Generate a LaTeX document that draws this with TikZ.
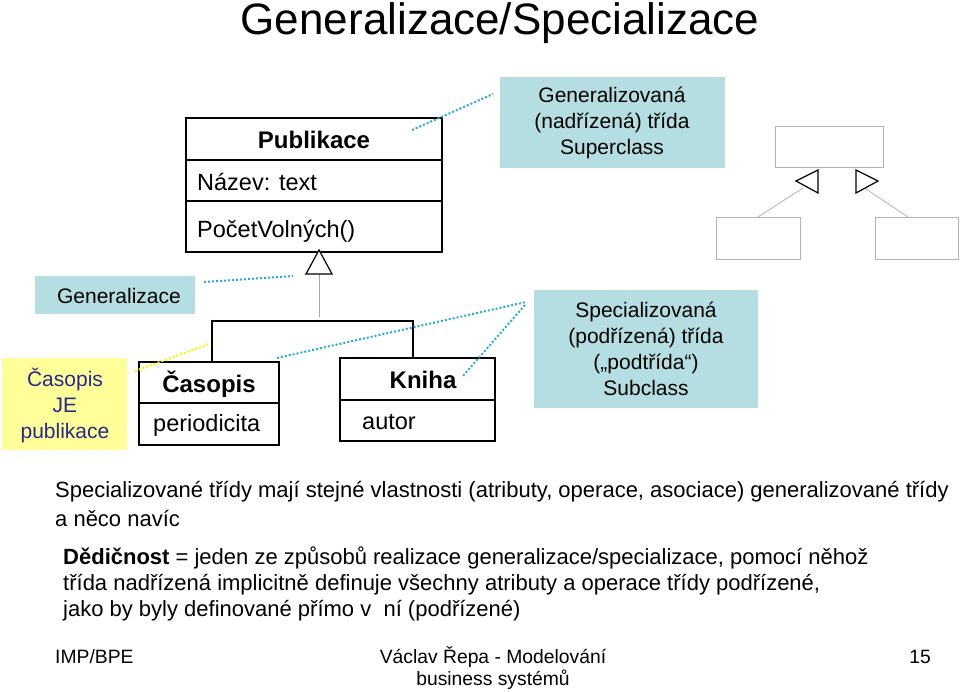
\documentclass[tikz,border=0pt]{standalone}
\usepackage{fontspec}
\setmainfont{Liberation Sans}
\definecolor{teal}{RGB}{181,222,227}
\definecolor{yel}{RGB}{255,255,153}
\definecolor{navy}{RGB}{40,40,140}
\definecolor{dcyan}{RGB}{40,170,210}
\begin{document}
\begin{tikzpicture}[x=1pt,y=-1pt,
  cls/.style={draw,line width=1.2pt},
  note/.style={fill=teal},
  dot/.style={dcyan,line width=2pt,dotted},
  t/.style={font=\fontsize{23.5}{26}\selectfont,inner sep=0pt},
  tb/.style={font=\fontsize{24}{26}\selectfont\bfseries,inner sep=0pt},
  body/.style={font=\fontsize{22}{26}\selectfont,inner sep=0pt,anchor=west},
  small/.style={font=\fontsize{21}{26}\selectfont,inner sep=0pt,align=center},
  foot/.style={font=\fontsize{19.3}{23}\selectfont,inner sep=0pt,align=center},
  gbox/.style={draw=gray!60,line width=1pt}]
\useasboundingbox (0,0) rectangle (960,691);
\node[inner sep=0, font=\fontsize{44}{50}\selectfont] (title) at (500,23) {Generalizace/Specializace};
% notes
\fill[note] (500,77) rectangle (725,168);
\node[small] (sup) at (612,123) {Generalizovaná\\(nadřízená) třída\\Superclass};
\fill[note] (534,290) rectangle (758,408);
\node[small] (sub) at (646,349) {Specializovaná\\(podřízená) třída\\(„podtřída“)\\Subclass};
\fill[note] (35,276) rectangle (195,314);
\node[small] (gen) at (119,296) {Generalizace};
\fill[yel] (2,358) rectangle (127,450);
\node[small,text=navy] (je) at (65,405) {Časopis\\JE\\publikace};
% Publikace
\draw[cls] (186,118) rectangle (442,252);
\draw[cls] (186,160) -- (442,160); \draw[cls] (186,201) -- (442,201);
\node[tb] (pub) at (314,140) {Publikace};
\node[t,anchor=west] (naz) at (197,182) {Název: text};
\node[t,anchor=west] (poc) at (197,231) {PočetVolných()};
% Casopis
\draw[cls] (139,362) rectangle (279,445); \draw[cls] (139,403) -- (279,403);
\node[tb] (cas) at (209,384) {Časopis};
\node[t,anchor=west] (per) at (153,425) {periodicita};
% Kniha
\draw[cls] (340,358) rectangle (495,441); \draw[cls] (340,400) -- (495,400);
\node[tb] (kn) at (423,380) {Kniha};
\node[t,anchor=west] (aut) at (362,422) {autor};
% generalization
\draw[gray!70,line width=0.8pt] (319,274) -- (319,317);
\draw[line width=1.2pt] (212,362) -- (212,321) -- (413,321) -- (413,358);
\draw[line width=1.2pt,fill=white] (319,250) -- (332,274) -- (306,274) -- cycle;
% dotted
\draw[dot] (412,130) -- (493,94);
\draw[dot] (204,282) -- (293,276);
\draw[dot] (277,358) -- (526,302);
\draw[dot] (525,305) -- (462,377);
\draw[yellow,line width=2pt,dotted] (135,371) -- (209,344);
% right diagram
\draw[gbox] (775,126) rectangle (883,167);
\draw[gbox] (716,217) rectangle (800,259);
\draw[gbox] (875,217) rectangle (958,259);
\draw[gray!60,line width=0.8pt] (803,188) -- (758,217);
\draw[gray!60,line width=0.8pt] (866,189) -- (908,217);
\draw[line width=1.2pt,fill=white] (796,181) -- (818,170) -- (818,193) -- cycle;
\draw[line width=1.2pt,fill=white] (878,181) -- (856,170) -- (856,193) -- cycle;
% texts
\node[body] (l1) at (55,492) {Specializované třídy mají stejné vlastnosti (atributy, operace, asociace) generalizované třídy};
\node[body] (l2) at (55,518) {a něco navíc};
\node[body] (l3) at (63,558) {\textbf{Dědičnost} = jeden ze způsobů realizace generalizace/specializace, pomocí něhož};
\node[body] (l4) at (63,585) {třída nadřízená implicitně definuje všechny atributy a operace třídy podřízené,};
\node[body] (l5) at (63,611) {jako by byly definované přímo v\ \ ní (podřízené)};
\node[foot,anchor=west] (f1) at (55,657) {IMP/BPE};
\node[foot] (f2) at (493,657) {Václav Řepa - Modelování};
\node[foot] (f3) at (493,680) {business systémů};
\node[foot] (f4) at (920,657) {15};
\end{tikzpicture}
\end{document}
